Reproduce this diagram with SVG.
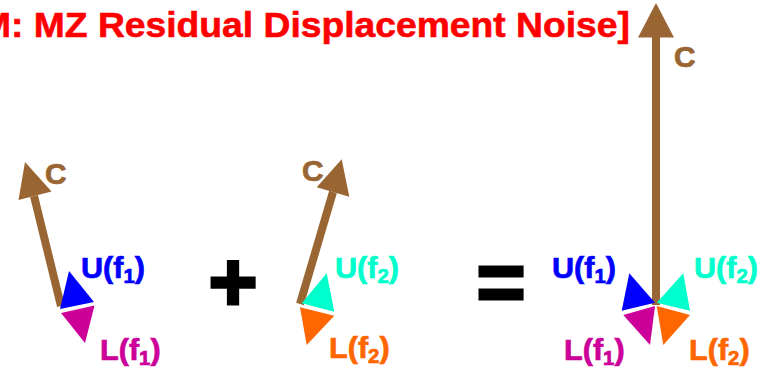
<svg xmlns="http://www.w3.org/2000/svg" width="769" height="368" viewBox="0 0 769 368">
<style>
text{font-family:"Liberation Sans",Arial,sans-serif;font-weight:bold}
.title{fill:#FF0000;stroke:#FF0000;stroke-width:0.6px;font-size:36px}
.lbl{font-size:30px;stroke-width:0.7px}
.sub{font-size:20px}
.c{fill:#996633;stroke:#996633;stroke-width:0.7px;font-size:29px}
.op{fill:#000;stroke:#000;stroke-width:3px;stroke-linejoin:miter;font-size:84px}
.shaft{stroke:#996633;stroke-width:8;fill:none}
.headC{fill:#996633}
.blue{fill:#0000FF}.mag{fill:#CC0099}.cyan{fill:#00FFCC}.orange{fill:#FF6600}
</style>
<rect width="769" height="368" fill="#fff"/>
<text id="title" class="title" transform="translate(-20 37) scale(1.035 1)">M: MZ Residual Displacement Noise]</text>

<g id="vec1">
  <g class="connectors">
    <line class="shaft" x1="61" y1="306" x2="34" y2="196"/>
    <polygon class="headC" points="25,162 18.5,200 51.5,191.5"/>
    <polygon class="blue" points="69,271 60,309 94,302"/>
    <polygon class="mag" points="61,313 94.5,305.5 85,343"/>
  </g>
  <text class="c" transform="translate(45 184) scale(1.03 1)">C</text>
  <text class="lbl" fill="#0000FF" stroke="#0000FF" transform="translate(81 278) scale(1.02 1)">U(f<tspan class="sub" dy="5">1</tspan><tspan dy="-5">)</tspan></text>
  <text class="lbl" fill="#CC0099" stroke="#CC0099" transform="translate(100 360) scale(1.02 1)">L(f<tspan class="sub" dy="5">1</tspan><tspan dy="-5">)</tspan></text>
</g>

<text id="plus" class="op" text-anchor="middle" x="233" y="311">+</text>

<g id="vec2">
  <g class="connectors">
    <line class="shaft" x1="300" y1="304" x2="333" y2="192"/>
    <polygon class="headC" points="341.7,159.3 316.7,187.3 349.3,196.7"/>
    <polygon class="cyan" points="326.7,273.3 301.7,303.3 334.3,311.7"/>
    <polygon class="orange" points="300,307.3 334.3,315.7 306.7,345"/>
  </g>
  <text class="c" transform="translate(302 181) scale(1.03 1)">C</text>
  <text class="lbl" fill="#00FFCC" stroke="#00FFCC" transform="translate(335 278) scale(1.02 1)">U(f<tspan class="sub" dy="5">2</tspan><tspan dy="-5">)</tspan></text>
  <text class="lbl" fill="#FF6600" stroke="#FF6600" transform="translate(329 358) scale(1.02 1)">L(f<tspan class="sub" dy="5">2</tspan><tspan dy="-5">)</tspan></text>
</g>

<text id="equals" class="op" text-anchor="middle" x="501" y="311">=</text>

<g id="vec3">
  <g class="connectors">
    <line class="shaft" x1="656" y1="305" x2="656" y2="36"/>
    <polygon class="headC" points="656,3 638,37.5 674,37.5"/>
    <polygon class="blue" points="629.3,273.3 621.7,310.7 655,302.7"/>
    <polygon class="cyan" points="683.3,273.3 656.7,302.7 690,310.7"/>
    <polygon class="mag" points="623.3,315 655,306 650,345"/>
    <polygon class="orange" points="656.7,306 690,315 663.3,345"/>
  </g>
  <text class="c" transform="translate(674 67) scale(1.03 1)">C</text>
  <text class="lbl" fill="#0000FF" stroke="#0000FF" transform="translate(552 278) scale(1.02 1)">U(f<tspan class="sub" dy="5">1</tspan><tspan dy="-5">)</tspan></text>
  <text class="lbl" fill="#00FFCC" stroke="#00FFCC" transform="translate(694 278) scale(1.02 1)">U(f<tspan class="sub" dy="5">2</tspan><tspan dy="-5">)</tspan></text>
  <text class="lbl" fill="#CC0099" stroke="#CC0099" transform="translate(564 360) scale(1.02 1)">L(f<tspan class="sub" dy="5">1</tspan><tspan dy="-5">)</tspan></text>
  <text class="lbl" fill="#FF6600" stroke="#FF6600" transform="translate(689 360) scale(1.02 1)">L(f<tspan class="sub" dy="5">2</tspan><tspan dy="-5">)</tspan></text>
</g>
</svg>
